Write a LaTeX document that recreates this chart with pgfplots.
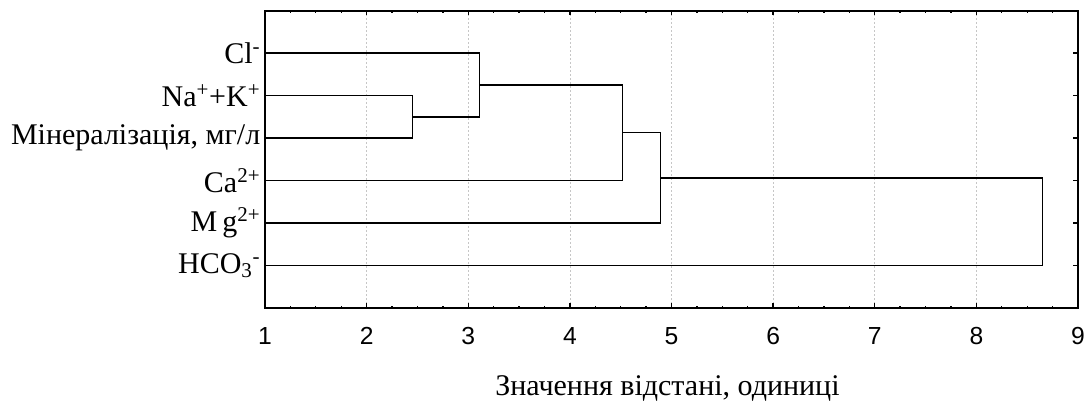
\documentclass[border=0pt]{standalone}
\usepackage{fontspec}
\setmainfont{Liberation Serif}
\newfontfamily\sansfont{Liberation Sans}
\usepackage{pgfplots}
\pgfplotsset{compat=1.18}
\begin{document}
\begin{tikzpicture}
\begin{axis}[
  scale only axis, width=609.75pt, height=223pt,
  xmin=1, xmax=9, ymin=0, ymax=7,
  xtick={1,...,9}, minor x tick num=3,
  ytick={1,...,6},
  yticklabels={HCO\textsubscript{3}\textsuperscript{-}, M\,g\textsuperscript{2+}, Ca\textsuperscript{2+}, {Мінералізація, мг/л}, Na\textsuperscript{+}+K\textsuperscript{+}, Cl\textsuperscript{-}},
  tick align=inside, xtick pos=both, ytick pos=both,
  yticklabel pos=left, xticklabel pos=bottom,
  major tick length=3.5pt, minor tick length=1.8pt,
  xmajorgrids,
  grid style={gray!45, dash pattern=on 1.5pt off 1.5pt, line width=0.5pt},
  axis line style={line width=1.3pt},
  tick style={black, line width=1pt},
  /pgf/number format/assume math mode=true,
  xticklabel style={font=\sansfont\fontsize{18.5}{20}\selectfont, yshift=-11pt},
  yticklabel style={font=\fontsize{22.5}{26}\selectfont},
  xlabel={Значення відстані, одиниці},
  xlabel style={font=\fontsize{22.5}{26}\selectfont, at={(axis description cs:0.5,0)}, anchor=base, yshift=-65.8pt, xshift=-3pt},
]
\addplot[black, line width=1pt] coordinates {(1,5)(2.45,5)(2.45,4)(1,4)};
\addplot[black, line width=1pt] coordinates {(1,6)(3.11,6)(3.11,4.5)(2.45,4.5)};
\addplot[black, line width=1pt] coordinates {(3.11,5.25)(4.52,5.25)(4.52,3)(1,3)};
\addplot[black, line width=1pt] coordinates {(4.52,4.125)(4.89,4.125)(4.89,2)(1,2)};
\addplot[black, line width=1pt] coordinates {(4.89,3.0625)(8.65,3.0625)(8.65,1)(1,1)};
\coordinate (sw) at (rel axis cs:0,0);
\coordinate (ne) at (rel axis cs:1,1);
\end{axis}
\pgfresetboundingbox
\path ([shift={(-198.75pt,-71.25pt)}]sw) rectangle ([shift={(9pt,8pt)}]ne);
\end{tikzpicture}
\end{document}
